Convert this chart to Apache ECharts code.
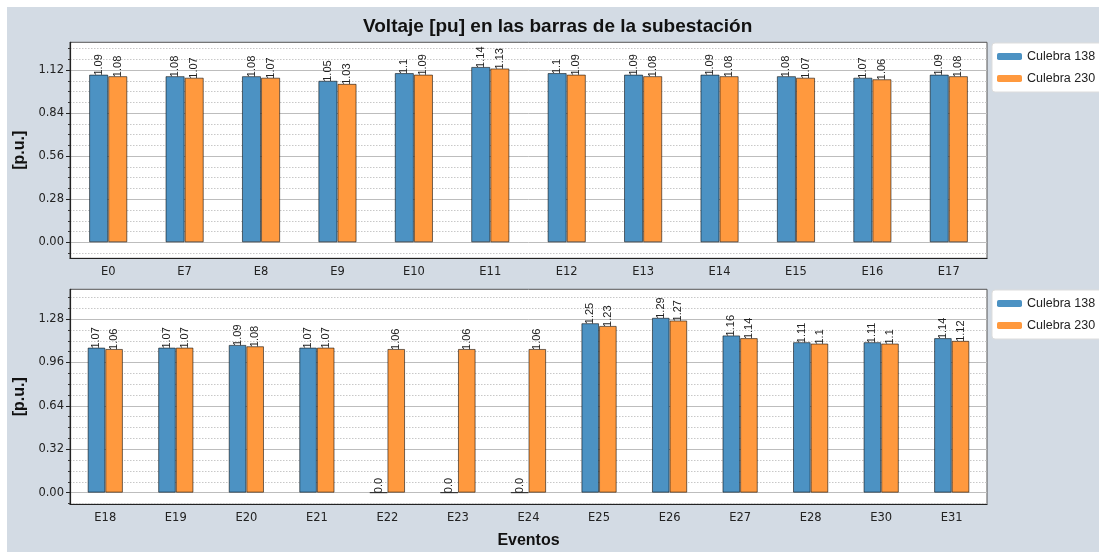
<!DOCTYPE html>
<html>
<head>
<meta charset="utf-8">
<script src="https://cdn.jsdelivr.net/npm/echarts@6/dist/echarts.min.js"></script>
<style>
  html, body {margin: 0; padding: 0; background: #fff; overflow: hidden;}
  #chart {position: absolute; left: 7px; top: 7px; right: 0; bottom: 0;}
</style>
</head>
<body>
<div id="chart"></div>
<script>
const topCats = ['E0', 'E7', 'E8', 'E9', 'E10', 'E11', 'E12', 'E13', 'E14', 'E15', 'E16', 'E17'];
const top138 = [1.09, 1.08, 1.08, 1.05, 1.1, 1.14, 1.1, 1.09, 1.09, 1.08, 1.07, 1.09];
const top230 = [1.08, 1.07, 1.07, 1.03, 1.09, 1.13, 1.09, 1.08, 1.08, 1.07, 1.06, 1.08];

const botCats = ['E18', 'E19', 'E20', 'E21', 'E22', 'E23', 'E24', 'E25', 'E26', 'E27', 'E28', 'E30', 'E31'];
const bot138 = [1.07, 1.07, 1.09, 1.07, 0.0, 0.0, 0.0, 1.25, 1.29, 1.16, 1.11, 1.11, 1.14];
const bot230 = [1.06, 1.07, 1.08, 1.07, 1.06, 1.06, 1.06, 1.23, 1.27, 1.14, 1.1, 1.1, 1.12];

const topTicks = [0, 0.28, 0.56, 0.84, 1.12];
const botTicks = [0, 0.32, 0.64, 0.96, 1.28];
const seriesNames = ['Culebra 138', 'Culebra 230'];

// minor ticks: 4 per major step, skip the majors
function minorTicks(step, lo, hi) {
  const out = [];
  const m = step / 4;
  for (let i = Math.ceil(lo / m); i * m <= hi; i++) {
    if (i % 4 !== 0) out.push(+(i * m).toFixed(4));
  }
  return out;
}

const blue = '#4c92c3';
const orange = '#ff993e';
const tickFont = 'DejaVu Sans';
const textFont = 'Liberation Sans';

const chart = echarts.init(document.getElementById('chart'));

function yAxes(gridIndex, min, max, ticks, step) {
  return [
    {
      type: 'value', gridIndex, min, max, position: 'left',
      axisLine: {show: false},
      axisLabel: {show: false},
      axisTick: {show: true, length: 2, customValues: minorTicks(step, min, max), lineStyle: {color: '#333'}},
      splitLine: {show: true, lineStyle: {color: '#c8c8c8', type: [1.5, 1.5], width: 1}},
    },
    {
      type: 'value', gridIndex, min, max, position: 'left',
      name: '[p.u.]', nameLocation: 'middle', nameGap: 33,
      nameTextStyle: {fontFamily: textFont, fontWeight: 'bold', fontSize: 16, color: '#111'},
      axisLine: {show: true, lineStyle: {color: '#222', width: 1.2}},
      axisTick: {show: true, length: 4, customValues: ticks, lineStyle: {color: '#222'}},
      axisLabel: {customValues: ticks, fontFamily: tickFont, fontSize: 11.5, color: '#222', margin: 6,
        formatter: v => v.toFixed(2)},
      splitLine: {show: true, lineStyle: {color: '#bdbdbd', width: 1}},
    }
  ];
}

function xAxis(gridIndex, cats, name) {
  return {
    type: 'category', gridIndex, data: cats,
    name: name, nameLocation: 'middle', nameGap: 28,
    nameTextStyle: {fontFamily: textFont, fontWeight: 'bold', fontSize: 16, color: '#111'},
    axisLine: {onZero: false, lineStyle: {color: '#222', width: 1.2}},
    axisTick: {alignWithLabel: true, length: 4, lineStyle: {color: '#222'}},
    axisLabel: {fontFamily: tickFont, fontSize: 11.5, color: '#222', margin: 8},
  };
}

const valueLabel = {
  show: true, position: 'top', rotate: 90, align: 'left', verticalAlign: 'middle',
  distance: -1, fontFamily: textFont, fontSize: 11, color: '#222',
  formatter: p => Number.isInteger(p.value) ? p.value.toFixed(1) : String(p.value)
};

function bars(name, data, color, xi, yi) {
  return {
    name, type: 'bar', data, xAxisIndex: xi, yAxisIndex: yi,
    barWidth: '25%', barGap: '0%',
    itemStyle: {color, borderColor: 'rgba(0,0,0,0.55)', borderWidth: 1},
    label: valueLabel,
  };
}

function legend(top) {
  return {
    data: seriesNames, orient: 'vertical', left: 985, top,
    itemWidth: 25, itemHeight: 7, itemGap: 9,
    padding: [7, 8, 7, 5],
    backgroundColor: '#fff', borderColor: '#ddd', borderWidth: 1, borderRadius: 3,
    itemStyle: {borderWidth: 0},
    textStyle: {fontFamily: textFont, fontSize: 12.5, color: '#222'},
  };
}

chart.setOption({
  backgroundColor: '#d3dbe4',
  animation: false,
  title: {
    text: 'Voltaje [pu] en las barras de la subestación',
    left: 356, top: 10, padding: 0,
    textStyle: {fontFamily: textFont, fontWeight: 'bold', fontSize: 19, color: '#111'}
  },
  color: [blue, orange],
  legend: [legend(36), legend(283)],
  grid: [
    {left: 63, top: 35.3, width: 917, height: 216, outerBoundsMode: 'none', show: true, backgroundColor: '#fff', borderColor: '#555', borderWidth: 1},
    {left: 63, top: 282.3, width: 917, height: 215, outerBoundsMode: 'none', show: true, backgroundColor: '#fff', borderColor: '#555', borderWidth: 1},
  ],
  xAxis: [xAxis(0, topCats, ''), xAxis(1, botCats, 'Eventos')],
  yAxis: [
    ...yAxes(0, -0.104, 1.30, topTicks, 0.28),
    ...yAxes(1, -0.086, 1.50, botTicks, 0.32),
  ],
  series: [
    bars(seriesNames[0], top138, blue, 0, 0),
    bars(seriesNames[1], top230, orange, 0, 0),
    bars(seriesNames[0], bot138, blue, 1, 2),
    bars(seriesNames[1], bot230, orange, 1, 2),
  ]
});
</script>
</body>
</html>
